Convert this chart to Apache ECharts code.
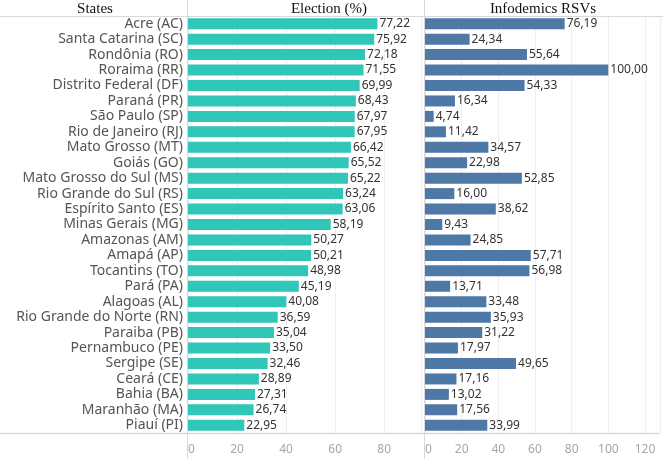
<!DOCTYPE html>
<html><head><meta charset="utf-8">
<script src="https://cdn.jsdelivr.net/npm/echarts@6/dist/echarts.min.js"></script>
<style>html,body{margin:0;padding:0;background:#fff}#c{width:663px;height:459px}</style>
</head><body><div id="c"></div>
<script>
const states = ["Acre (AC)","Santa Catarina (SC)","Rondônia (RO)","Roraima (RR)","Distrito Federal (DF)","Paraná (PR)","São Paulo (SP)","Rio de Janeiro (RJ)","Mato Grosso (MT)","Goiás (GO)","Mato Grosso do Sul (MS)","Rio Grande do Sul (RS)","Espírito Santo (ES)","Minas Gerais (MG)","Amazonas (AM)","Amapá (AP)","Tocantins (TO)","Pará (PA)","Alagoas (AL)","Rio Grande do Norte (RN)","Paraiba (PB)","Pernambuco (PE)","Sergipe (SE)","Ceará (CE)","Bahia (BA)","Maranhão (MA)","Piauí (PI)"];
const election = [77.22,75.92,72.18,71.55,69.99,68.43,67.97,67.95,66.42,65.52,65.22,63.24,63.06,58.19,50.27,50.21,48.98,45.19,40.08,36.59,35.04,33.50,32.46,28.89,27.31,26.74,22.95];
const infodemics = [76.19,24.34,55.64,100.00,54.33,16.34,4.74,11.42,34.57,22.98,52.85,16.00,38.62,9.43,24.85,57.71,56.98,13.71,33.48,35.93,31.22,17.97,49.65,17.16,13.02,17.56,33.99];
const headers = ["States","Election (%)","Infodemics RSVs"];

const chart = echarts.init(document.getElementById('c'));
const fmt = p => p.value.toFixed(2).replace('.', ',');
const tickColor = '#a6a6a6';
const gridColor = '#eeeeee';
const lineColor = '#d9d9d9';
function xAxis(gi, max) {
  return {
    type: 'value', gridIndex: gi, min: 0, max: max, interval: 20,
    axisLine: {show: false}, axisTick: {show: false},
    splitLine: {show: true, lineStyle: {color: gridColor, width: 1}},
    axisLabel: {color: tickColor, fontFamily: 'Noto Sans', fontSize: 12, margin: 11,
      showMaxLabel: false, alignMinLabel: 'left',
      formatter: v => (v % 20 === 0 ? String(v) : '')}
  };
}
function yAxis(gi, showLabels) {
  return {
    type: 'category', gridIndex: gi, data: states, inverse: true,
    axisLine: {show: false}, axisTick: {show: false}, splitLine: {show: false},
    axisLabel: {show: showLabels, interval: 0, color: '#555', fontFamily: 'Noto Sans', fontSize: 14, margin: 5}
  };
}
chart.setOption({
  animation: false,
  grid: [
    {left: 188, right: 663 - 421, top: 16, bottom: 26},
    {left: 425, right: 3, top: 16, bottom: 26}
  ],
  xAxis: [xAxis(0, 95), xAxis(1, 128.2)],
  yAxis: [yAxis(0, true), yAxis(1, false)],
  series: [
    {type: 'bar', xAxisIndex: 0, yAxisIndex: 0, data: election, barWidth: 11,
     itemStyle: {color: '#30c6b8'},
     label: {show: true, position: 'right', distance: 2, color: '#333', fontFamily: 'Noto Sans', fontSize: 12, formatter: fmt}},
    {type: 'bar', xAxisIndex: 1, yAxisIndex: 1, data: infodemics, barWidth: 11,
     itemStyle: {color: '#4e79a7'},
     label: {show: true, position: 'right', distance: 2, color: '#333', fontFamily: 'Noto Sans', fontSize: 12, formatter: fmt}}
  ],
  graphic: [
    {type: 'line', silent: true, shape: {x1: 0, y1: 16.5, x2: 663, y2: 16.5}, style: {stroke: lineColor, lineWidth: 1}, z: 10},
    {type: 'line', silent: true, shape: {x1: 0, y1: 433.5, x2: 660, y2: 433.5}, style: {stroke: lineColor, lineWidth: 1.5}, z: 10},
    {type: 'line', silent: true, shape: {x1: 187.5, y1: 0, x2: 187.5, y2: 459}, style: {stroke: lineColor, lineWidth: 1}, z: 10},
    {type: 'line', silent: true, shape: {x1: 424.5, y1: 0, x2: 424.5, y2: 459}, style: {stroke: lineColor, lineWidth: 1}, z: 10},
    {type: 'text', x: 95, y: 9, style: {text: headers[0], fill: '#111', font: '15px "Liberation Serif"', textAlign: 'center', textVerticalAlign: 'middle'}},
    {type: 'text', x: 329, y: 9, style: {text: headers[1], fill: '#111', font: '15px "Liberation Serif"', textAlign: 'center', textVerticalAlign: 'middle'}},
    {type: 'text', x: 543, y: 9, style: {text: headers[2], fill: '#111', font: '15px "Liberation Serif"', textAlign: 'center', textVerticalAlign: 'middle'}}
  ]
});
</script></body></html>
